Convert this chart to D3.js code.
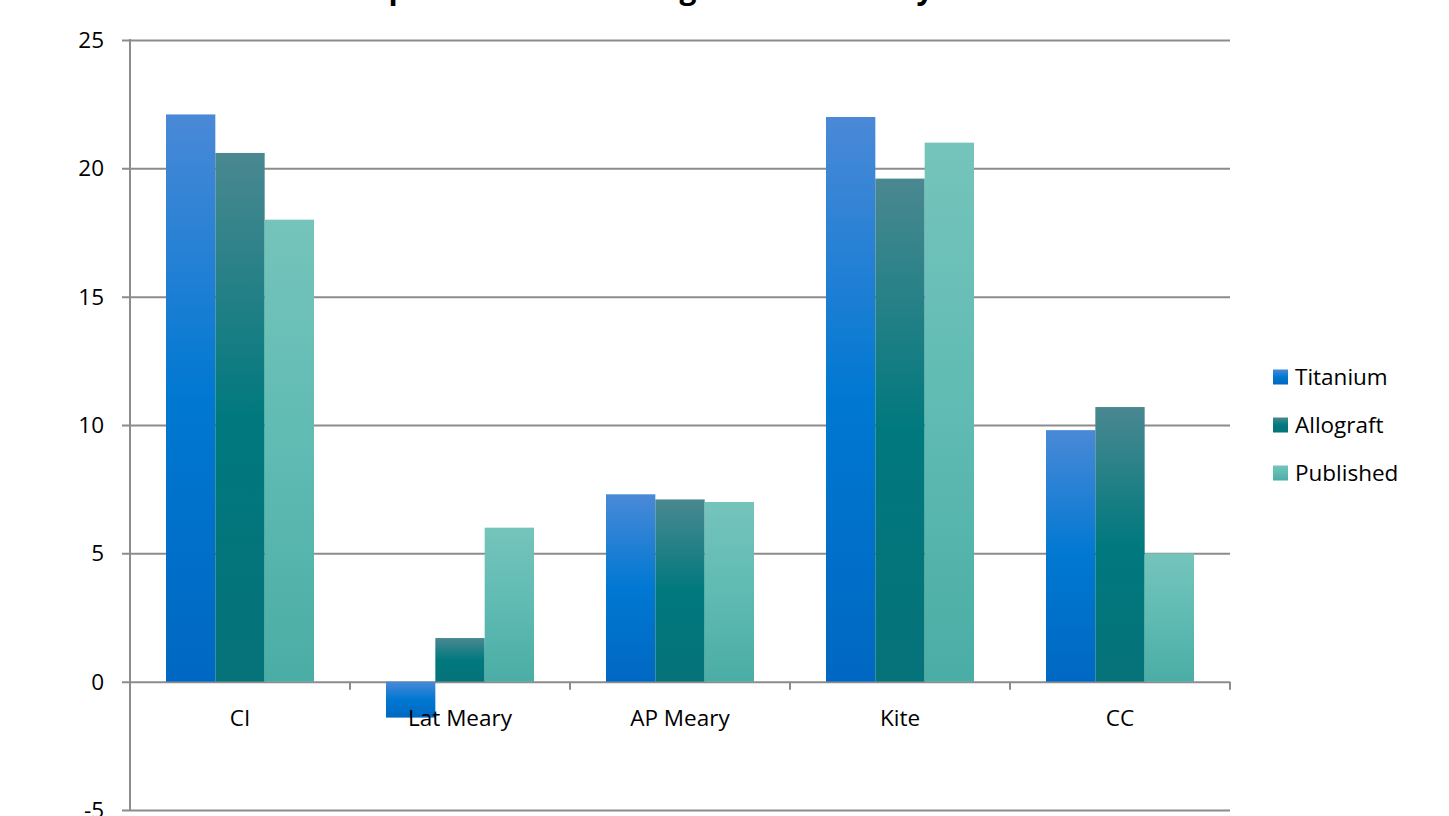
<!DOCTYPE html>
<html><head><meta charset="utf-8">
<script src="https://cdn.jsdelivr.net/npm/d3@7"></script>
<style>body{margin:0;background:#fff;overflow:hidden}svg{display:block}</style>
</head><body>
<script>
const categories = ["CI", "Lat Meary", "AP Meary", "Kite", "CC"];
const seriesNames = ["Titanium", "Allograft", "Published"];
const titanium  = [22.1, -1.4, 7.3, 22.0, 9.8];
const allograft = [20.6,  1.7, 7.1, 19.6, 10.7];
const published = [18.0,  6.0, 7.0, 21.0, 5.0];
const yTicks = [-5, 0, 5, 10, 15, 20, 25];
const titleText = "Comparison of Mean Angle Correction by Material";

(function () {
const seriesValues = [titanium, allograft, published];
const gradStops = [
  [["0%", "#4a89d7"], ["50%", "#0078d2"], ["100%", "#0068c2"]],
  [["0%", "#4a8890"], ["50%", "#00797e"], ["100%", "#067279"]],
  [["0%", "#75c4bb"], ["50%", "#5fbbb3"], ["100%", "#4aada5"]]
];

const W = 1449, H = 816;
const FONT = "'Open Sans', sans-serif";
const svg = d3.select("body").append("svg").attr("width", W).attr("height", H);

const defs = svg.append("defs");
gradStops.forEach((stops, i) => {
  const g = defs.append("linearGradient").attr("id", "g" + i)
    .attr("x1", 0).attr("y1", 0).attr("x2", 0).attr("y2", 1);
  stops.forEach(s => g.append("stop").attr("offset", s[0]).attr("stop-color", s[1]));
});

const mL = 130, mR = 1230, mT = 40, mB = 810;
const y = d3.scaleLinear().domain([-5, 25]).range([mB, mT]);
const x = d3.scaleBand().domain(categories).range([mL, mR])
  .paddingInner(72 / 220).paddingOuter(36 / 220);
const xs = d3.scaleBand().domain(seriesNames).range([0, x.bandwidth()]).padding(0);
const step = x.step();

const gridColor = "#8c8c8c";

// gridlines + y labels
const yAxis = d3.axisLeft(y).tickValues(yTicks).tickFormat(d => String(d))
  .tickSize(-(mR - mL)).tickSizeOuter(0).tickPadding(0);
const ga = svg.append("g").attr("transform", `translate(${mL},0)`).call(yAxis);
ga.select(".domain").remove();
ga.selectAll(".tick line").attr("stroke", gridColor).attr("stroke-width", 2).attr("x1", -8);
ga.selectAll(".tick text").attr("x", -26).attr("font-family", FONT).attr("font-size", 22.5)
  .attr("fill", "#000").attr("dy", "0.34em");

// y axis line
svg.append("line").attr("x1", mL).attr("x2", mL).attr("y1", mT - 1).attr("y2", mB + 1)
  .attr("stroke", gridColor).attr("stroke-width", 2);

// category ticks at band boundaries
const boundaries = categories.map(c => x(c) - x.paddingOuter() * step + step);
svg.append("g").selectAll("line").data(boundaries).join("line")
  .attr("x1", d => d).attr("x2", d => d).attr("y1", y(0)).attr("y2", y(0) + 8)
  .attr("stroke", gridColor).attr("stroke-width", 2);

// bars
const groups = svg.append("g").selectAll("g").data(categories).join("g")
  .attr("transform", d => `translate(${x(d)},0)`);
groups.selectAll("rect").data((c, ci) => seriesNames.map((s, si) => ({ s, si, v: seriesValues[si][ci] })))
  .join("rect")
  .attr("x", d => xs(d.s)).attr("width", xs.bandwidth())
  .attr("y", d => y(Math.max(0, d.v))).attr("height", d => Math.abs(y(d.v) - y(0)))
  .attr("fill", d => `url(#g${d.si})`);

// category labels
svg.append("g").selectAll("text").data(categories).join("text")
  .attr("x", d => x(d) + x.bandwidth() / 2).attr("y", y(0) + 44)
  .attr("text-anchor", "middle").attr("font-family", FONT).attr("font-size", 22.5)
  .attr("fill", "#000").text(d => d);

// legend
const lg = svg.append("g").selectAll("g").data(seriesNames).join("g")
  .attr("transform", (d, i) => `translate(1273,${377 + i * 48})`);
lg.append("rect").attr("x", 0).attr("y", -7.5).attr("width", 15).attr("height", 15)
  .attr("fill", (d, i) => `url(#g${i})`);
lg.append("text").attr("x", 22).attr("dy", "0.35em").attr("font-family", FONT)
  .attr("font-size", 22.5).attr("fill", "#000").text(d => d);

// title (cut off at the top edge: only descenders show)
const title = svg.append("text").attr("font-family", FONT).attr("font-weight", "bold")
  .attr("font-size", 30).attr("x", 0).attr("y", -1).attr("fill", "#000").text(titleText);
const tn = title.node();
const ip = titleText.indexOf("p"), iy = titleText.lastIndexOf("y");
function cx(i) { const e = tn.getExtentOfChar(i); return e.x + e.width / 2; }
try {
  const fs = 30 * (860 - 398) / (cx(iy) - cx(ip));
  title.attr("font-size", Math.max(fs, 30));
  title.attr("x", 398 - cx(ip));
} catch (e) {}
})();
</script>
</body></html>
